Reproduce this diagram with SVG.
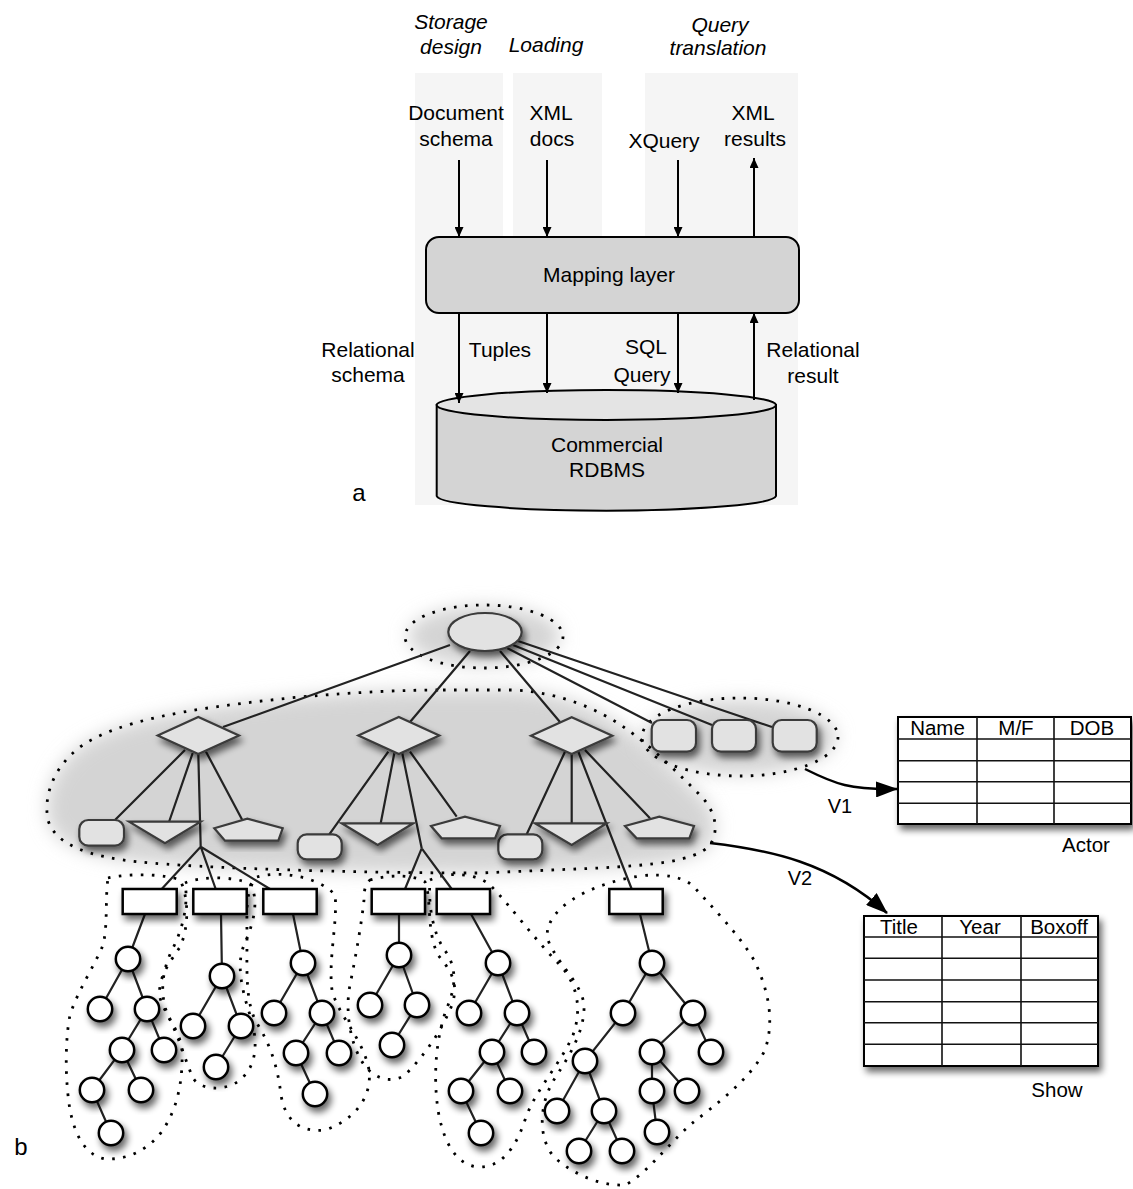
<svg xmlns="http://www.w3.org/2000/svg" width="1133" height="1189" viewBox="0 0 1133 1189">
<defs>
<style>
.t{font-family:"Liberation Sans",Arial,Helvetica,sans-serif;font-size:21px;fill:#000;text-anchor:middle}
.it{font-style:italic}
.tb{font-size:20.5px}
.bg{fill:#f5f5f5}
.ar{stroke:#000;stroke-width:2;fill:none;marker-end:url(#ah)}
.va{stroke:#000;stroke-width:2.5;fill:none;marker-end:url(#bh)}
.e{stroke:#222;stroke-width:2.2;fill:none}
.dt{stroke:#000;stroke-width:2.8;fill:none;stroke-dasharray:2.6 8.4}
.g2{fill:#e2e2e2;stroke:#3a3a3a;stroke-width:2.2}
.r3{fill:#fff;stroke:#000;stroke-width:2.5}
.c{fill:#fff;stroke:#000;stroke-width:2.5}
.blob{fill:#d4d4d4;filter:url(#bl)}
.tbl{fill:#fff;stroke:#000;stroke-width:2}
.tl{stroke:#111;stroke-width:1.6;fill:none}
</style>
<marker id="ah" markerUnits="userSpaceOnUse" markerWidth="10" markerHeight="9" refX="10" refY="4.5" orient="auto"><path d="M0,0 L10,4.5 L0,9 Z" fill="#000"/></marker>
<marker id="bh" markerUnits="userSpaceOnUse" markerWidth="22" markerHeight="16" refX="21" refY="8" orient="auto"><path d="M0,0 L22,8 L0,16 Z" fill="#000"/></marker>
<filter id="bl" x="-30%" y="-50%" width="160%" height="200%"><feGaussianBlur stdDeviation="9"/></filter>
<filter id="sh" x="-50%" y="-50%" width="200%" height="200%">
<feGaussianBlur in="SourceAlpha" stdDeviation="3.5"/>
<feOffset dx="3" dy="5"/>
<feComponentTransfer><feFuncA type="linear" slope="0.6"/></feComponentTransfer>
<feMerge><feMergeNode/><feMergeNode in="SourceGraphic"/></feMerge>
</filter>
</defs>
<rect width="1133" height="1189" fill="#fff"/>

<g id="a-background">
<rect class="bg" x="415" y="73" width="88" height="432"/>
<rect class="bg" x="513" y="73" width="89" height="432"/>
<rect class="bg" x="645" y="73" width="153" height="432"/>
<rect class="bg" x="415" y="300" width="383" height="205"/>
</g>

<g id="a-headers">
<text class="t it" x="451" y="29">Storage</text>
<text class="t it" x="451" y="54">design</text>
<text class="t it" x="546" y="52">Loading</text>
<text class="t it" x="720" y="32">Query</text>
<text class="t it" x="718" y="55">translation</text>
</g>
<g id="a-labels">
<text class="t" x="456" y="120">Document</text>
<text class="t" x="456" y="146">schema</text>
<text class="t" x="551" y="120">XML</text>
<text class="t" x="552" y="146">docs</text>
<text class="t" x="664" y="148">XQuery</text>
<text class="t" x="753" y="120">XML</text>
<text class="t" x="755" y="146">results</text>
<text class="t" x="368" y="357">Relational</text>
<text class="t" x="368" y="382">schema</text>
<text class="t" x="500" y="357">Tuples</text>
<text class="t" x="646" y="354">SQL</text>
<text class="t" x="642" y="382">Query</text>
<text class="t" x="813" y="357">Relational</text>
<text class="t" x="813" y="383">result</text>
<text class="t" x="359" y="501" style="font-size:24px">a</text>
<text class="t" x="21" y="1155" style="font-size:24px">b</text>
</g>

<g id="mapping-layer">
<rect x="426" y="237" width="373" height="76" rx="13" fill="#d4d4d4" stroke="#000" stroke-width="2"/>
<text class="t" x="609" y="282">Mapping layer</text>
</g>

<g id="rdbms">
<path d="M436.7,405 L436.7,496 A169.7,15 0 0 0 776,496 L776,405 Z" fill="#d4d4d4" stroke="#000" stroke-width="2"/>
<ellipse cx="606.3" cy="405" rx="169.7" ry="15" fill="#e4e4e4" stroke="#000" stroke-width="2"/>
<text class="t" x="607" y="452">Commercial</text>
<text class="t" x="607" y="477">RDBMS</text>
</g>

<g id="blobs">
<ellipse class="blob" cx="484" cy="636" rx="76" ry="30"/>
<path class="blob" d="M443,690 L513,690 C560,692 600,710 625,728 C650,745 680,775 700,795 C715,810 720,830 710,845 C695,862 650,865 600,868 L480,873 C350,873 200,868 140,862 C90,857 55,845 48,820 C42,790 60,755 95,738 C140,715 220,705 300,697 C360,692 400,690 443,690 Z"/>
<ellipse class="blob" cx="740" cy="737" rx="96" ry="37"/>
</g>

<g id="groupings">
<ellipse class="dt" cx="484" cy="636.5" rx="79" ry="31.5"/>
<path class="dt" d="M443,690 L513,690 C560,692 600,710 625,728 C650,745 680,775 700,795 C715,810 720,830 710,845 C695,862 650,865 600,868 L480,873 C350,873 200,868 140,862 C90,857 55,845 48,820 C42,790 60,755 95,738 C140,715 220,705 300,697 C360,692 400,690 443,690 Z"/>
<ellipse class="dt" cx="740" cy="737" rx="98" ry="39"/>
<path class="dt" d="M108,878 C130,873 165,874 180,880 C188,895 190,925 180,947 C170,962 157,978 160,998 C165,1015 180,1030 182,1050 C183,1080 178,1110 160,1134 C145,1152 125,1160 105,1159 C85,1155 75,1135 70,1110 C65,1080 65,1040 70,1015 C78,990 95,965 103,945 C108,925 105,900 108,878 Z"/>
<path class="dt" d="M185,883 C200,876 235,876 250,884 C260,900 253,925 244,945 C236,965 242,990 250,1015 C258,1040 258,1065 240,1080 C225,1092 200,1090 193,1078 C185,1060 180,1040 170,1020 C160,1000 160,975 172,950 C185,925 188,900 185,883 Z"/>
<path class="dt" d="M257,877 C280,870 320,877 335,895 C338,920 328,960 332,990 C338,1015 360,1035 368,1065 C375,1095 355,1120 325,1130 C300,1133 285,1120 281,1095 C278,1070 272,1048 258,1025 C245,1005 247,970 247,940 C247,910 245,890 257,877 Z"/>
<path class="dt" d="M370,880 C390,874 415,875 425,882 C432,900 426,930 438,955 C448,968 460,980 452,1005 C442,1030 425,1055 405,1075 C390,1085 370,1078 360,1058 C350,1040 345,1010 350,985 C356,955 362,920 364,900 C364,888 366,883 370,880 Z"/>
<path class="dt" d="M430,880 C445,872 475,872 490,885 C510,905 535,940 560,965 C578,985 582,1010 573,1035 C560,1065 535,1090 525,1120 C515,1150 500,1168 478,1167 C455,1165 443,1140 438,1110 C433,1075 436,1040 446,1010 C455,990 458,970 446,952 C433,935 428,905 430,880 Z"/>
<path class="dt" d="M550,923 C560,900 600,882 640,876 C665,873 685,877 695,888 C710,905 740,935 755,962 C768,990 775,1020 765,1050 C750,1080 715,1105 690,1125 C665,1148 645,1175 625,1185 C600,1186 575,1175 555,1158 C538,1140 538,1105 555,1078 C570,1055 585,1030 584,1005 C582,985 560,965 553,950 C546,940 546,930 550,923 Z"/>
</g>

<g id="connectors">
<line class="ar" x1="459" y1="160" x2="459" y2="237"/>
<line class="ar" x1="547" y1="160" x2="547" y2="237"/>
<line class="ar" x1="678" y1="160" x2="678" y2="237"/>
<line class="ar" x1="754" y1="237" x2="754" y2="158"/>
<line class="ar" x1="459" y1="313" x2="459" y2="403"/>
<line class="ar" x1="547" y1="313" x2="547" y2="393"/>
<line class="ar" x1="678" y1="313" x2="678" y2="393"/>
<line class="ar" x1="754" y1="400" x2="754" y2="313"/>

<path class="e" d="M450,645 L223,727 M470,651 L410,722 M500,651 L560,722 M507,648 L652,723 M513,645 L712,725 M518,641 L772,727"/>
<path class="e" d="M185,750 L115,820 M192.7,753 L169,822 M198.3,754 L200.7,846.7 M206,751.7 L242.3,820 M200.7,846.7 L161.7,889 M200.7,846.7 L215.7,889 M200.7,846.7 L270,889"/>
<path class="e" d="M388.3,751.7 L329.3,834.3 M394.3,753.3 L380.7,823.3 M402.3,753.3 L421.7,848.3 M410,751.7 L456.7,816.7 M421.7,848.3 L405,889 M421.7,848.3 L451.7,889"/>
<path class="e" d="M565,751.7 L526.7,834.3 M571.7,753.3 L571.7,823.3 M578.3,751.7 L631.7,889 M585,750 L650,818.3"/>

<path class="e" d="M145,914 L128,959 L100,1009 M128,959 L147,1009 L122,1050 L92,1090 L111,1133 M147,1009 L164,1050 M122,1050 L141,1090"/>
<path class="e" d="M221,914 L222,976 L193,1026 M222,976 L241,1026 L216,1067"/>
<path class="e" d="M293,914 L303,963 L274,1013 M303,963 L322,1013 L296,1053 L315,1094 M322,1013 L339,1053"/>
<path class="e" d="M399,914 L399,955 L370,1005 M399,955 L417,1005 L392,1045"/>
<path class="e" d="M471,914 L498,963 L469,1013 M498,963 L517,1013 L492,1052 L461,1091 L481,1133 M517,1013 L534,1052 M492,1052 L510,1091"/>
<path class="e" d="M640,914 L652,963 L623,1013 L585,1061 L557,1111 M585,1061 L604,1111 L579,1151 M604,1111 L622,1151 M652,963 L693,1013 L652,1052 L652,1091 L657,1132 M652,1052 L687,1091 M693,1013 L711,1052"/>

<path class="va" d="M805,769 C835,784 850,790 897,789"/>
<path class="va" d="M710,843 C770,850 830,862 887,913"/>
<text class="t" x="840" y="813" style="font-size:20px">V1</text>
<text class="t" x="800" y="885" style="font-size:20px">V2</text>
</g>

<g id="root" filter="url(#sh)"><ellipse class="g2" cx="485" cy="632" rx="36.7" ry="19"/></g>

<g id="d1" filter="url(#sh)"><polygon class="g2" points="157.7,735.5 198.3,717 239,735.5 198.3,754"/></g>
<g id="d2" filter="url(#sh)"><polygon class="g2" points="358.3,735.5 398.8,717 439.3,735.5 398.8,754"/></g>
<g id="d3" filter="url(#sh)"><polygon class="g2" points="531,735.7 571.7,717.3 612.3,735.7 571.7,754"/></g>

<g id="ra" filter="url(#sh)"><rect class="g2" x="79.3" y="820" width="44.7" height="25.7" rx="9"/></g>
<g id="rb" filter="url(#sh)"><rect class="g2" x="297.7" y="834.3" width="44" height="25" rx="9"/></g>
<g id="rc" filter="url(#sh)"><rect class="g2" x="498.3" y="834.3" width="44" height="25" rx="9"/></g>

<g id="t1" filter="url(#sh)"><polygon class="g2" points="129,821.7 200.7,821.7 165,843.3"/></g>
<g id="t2" filter="url(#sh)"><polygon class="g2" points="341.7,823.3 413.3,823.3 377.7,845"/></g>
<g id="t3" filter="url(#sh)"><polygon class="g2" points="535,823.3 606.7,823.3 571.7,845"/></g>

<g id="p1" filter="url(#sh)"><polygon class="g2" points="214.3,828.3 247.3,818.7 282.7,828.3 278.3,840.7 225,840.7"/></g>
<g id="p2" filter="url(#sh)"><polygon class="g2" points="431,826 465,816.7 500,826 495,838.3 441.7,838.3"/></g>
<g id="p3" filter="url(#sh)"><polygon class="g2" points="625,826 659.3,816.7 694,826 689.3,838.3 636.7,838.3"/></g>

<g id="s1" filter="url(#sh)"><rect class="g2" x="651.7" y="720" width="44.3" height="31.7" rx="9"/></g>
<g id="s2" filter="url(#sh)"><rect class="g2" x="712" y="720" width="44" height="31.7" rx="9"/></g>
<g id="s3" filter="url(#sh)"><rect class="g2" x="772.7" y="720" width="44" height="31.7" rx="9"/></g>

<g id="e1" filter="url(#sh)"><rect class="r3" x="122.7" y="889" width="54" height="25"/></g>
<g id="e2" filter="url(#sh)"><rect class="r3" x="193.3" y="889" width="53.4" height="25"/></g>
<g id="e3" filter="url(#sh)"><rect class="r3" x="263.3" y="889" width="53.4" height="25"/></g>
<g id="e4" filter="url(#sh)"><rect class="r3" x="371.7" y="889" width="53.3" height="25"/></g>
<g id="e5" filter="url(#sh)"><rect class="r3" x="436.7" y="889" width="53.3" height="25"/></g>
<g id="e6" filter="url(#sh)"><rect class="r3" x="609.3" y="889" width="53.4" height="25"/></g>

<g id="c1" filter="url(#sh)"><circle class="c" cx="128" cy="959" r="12.2"/></g>
<g id="c2" filter="url(#sh)"><circle class="c" cx="100" cy="1009" r="12.2"/></g>
<g id="c3" filter="url(#sh)"><circle class="c" cx="147" cy="1009" r="12.2"/></g>
<g id="c4" filter="url(#sh)"><circle class="c" cx="122" cy="1050" r="12.2"/></g>
<g id="c5" filter="url(#sh)"><circle class="c" cx="164" cy="1050" r="12.2"/></g>
<g id="c6" filter="url(#sh)"><circle class="c" cx="92" cy="1090" r="12.2"/></g>
<g id="c7" filter="url(#sh)"><circle class="c" cx="141" cy="1090" r="12.2"/></g>
<g id="c8" filter="url(#sh)"><circle class="c" cx="111" cy="1133" r="12.2"/></g>

<g id="k1" filter="url(#sh)"><circle class="c" cx="222" cy="976" r="12.2"/></g>
<g id="k2" filter="url(#sh)"><circle class="c" cx="193" cy="1026" r="12.2"/></g>
<g id="k3" filter="url(#sh)"><circle class="c" cx="241" cy="1026" r="12.2"/></g>
<g id="k4" filter="url(#sh)"><circle class="c" cx="216" cy="1067" r="12.2"/></g>

<g id="m1" filter="url(#sh)"><circle class="c" cx="303" cy="963" r="12.2"/></g>
<g id="m2" filter="url(#sh)"><circle class="c" cx="274" cy="1013" r="12.2"/></g>
<g id="m3" filter="url(#sh)"><circle class="c" cx="322" cy="1013" r="12.2"/></g>
<g id="m4" filter="url(#sh)"><circle class="c" cx="296" cy="1053" r="12.2"/></g>
<g id="m5" filter="url(#sh)"><circle class="c" cx="339" cy="1053" r="12.2"/></g>
<g id="m6" filter="url(#sh)"><circle class="c" cx="315" cy="1094" r="12.2"/></g>

<g id="f1" filter="url(#sh)"><circle class="c" cx="399" cy="955" r="12.2"/></g>
<g id="f2" filter="url(#sh)"><circle class="c" cx="370" cy="1005" r="12.2"/></g>
<g id="f3" filter="url(#sh)"><circle class="c" cx="417" cy="1005" r="12.2"/></g>
<g id="f4" filter="url(#sh)"><circle class="c" cx="392" cy="1045" r="12.2"/></g>

<g id="g1" filter="url(#sh)"><circle class="c" cx="498" cy="963" r="12.2"/></g>
<g id="g2" filter="url(#sh)"><circle class="c" cx="469" cy="1013" r="12.2"/></g>
<g id="g3" filter="url(#sh)"><circle class="c" cx="517" cy="1013" r="12.2"/></g>
<g id="g4" filter="url(#sh)"><circle class="c" cx="492" cy="1052" r="12.2"/></g>
<g id="g5" filter="url(#sh)"><circle class="c" cx="534" cy="1052" r="12.2"/></g>
<g id="g6" filter="url(#sh)"><circle class="c" cx="461" cy="1091" r="12.2"/></g>
<g id="g7" filter="url(#sh)"><circle class="c" cx="510" cy="1091" r="12.2"/></g>
<g id="g8" filter="url(#sh)"><circle class="c" cx="481" cy="1133" r="12.2"/></g>

<g id="h1" filter="url(#sh)"><circle class="c" cx="652" cy="963" r="12.2"/></g>
<g id="h2" filter="url(#sh)"><circle class="c" cx="623" cy="1013" r="12.2"/></g>
<g id="h3" filter="url(#sh)"><circle class="c" cx="693" cy="1013" r="12.2"/></g>
<g id="h4" filter="url(#sh)"><circle class="c" cx="585" cy="1061" r="12.2"/></g>
<g id="h5" filter="url(#sh)"><circle class="c" cx="652" cy="1052" r="12.2"/></g>
<g id="h6" filter="url(#sh)"><circle class="c" cx="711" cy="1052" r="12.2"/></g>
<g id="h7" filter="url(#sh)"><circle class="c" cx="557" cy="1111" r="12.2"/></g>
<g id="h8" filter="url(#sh)"><circle class="c" cx="604" cy="1111" r="12.2"/></g>
<g id="h9" filter="url(#sh)"><circle class="c" cx="652" cy="1091" r="12.2"/></g>
<g id="h10" filter="url(#sh)"><circle class="c" cx="687" cy="1091" r="12.2"/></g>
<g id="h11" filter="url(#sh)"><circle class="c" cx="579" cy="1151" r="12.2"/></g>
<g id="h12" filter="url(#sh)"><circle class="c" cx="622" cy="1151" r="12.2"/></g>
<g id="h13" filter="url(#sh)"><circle class="c" cx="657" cy="1132" r="12.2"/></g>

<g id="actor-table">
<rect class="tbl" x="898" y="717" width="233" height="107" filter="url(#sh)"/>
<path class="tl" d="M977,717 V824 M1054,717 V824 M898,739 H1131 M898,760.7 H1131 M898,781.7 H1131 M898,803.3 H1131"/>
<text class="t tb" x="937.5" y="735">Name</text>
<text class="t tb" x="1016" y="735">M/F</text>
<text class="t tb" x="1092" y="735">DOB</text>
<text class="t tb" x="1086" y="852">Actor</text>
</g>

<g id="show-table">
<rect class="tbl" x="864" y="916" width="234" height="150" filter="url(#sh)"/>
<path class="tl" d="M942,916 V1066 M1021,916 V1066 M864,937 H1098 M864,958.3 H1098 M864,980 H1098 M864,1001.7 H1098 M864,1022.7 H1098 M864,1044.3 H1098"/>
<text class="t tb" x="899" y="933.5">Title</text>
<text class="t tb" x="980" y="933.5">Year</text>
<text class="t tb" x="1059" y="933.5">Boxoff</text>
<text class="t tb" x="1057" y="1097">Show</text>
</g>
</svg>
